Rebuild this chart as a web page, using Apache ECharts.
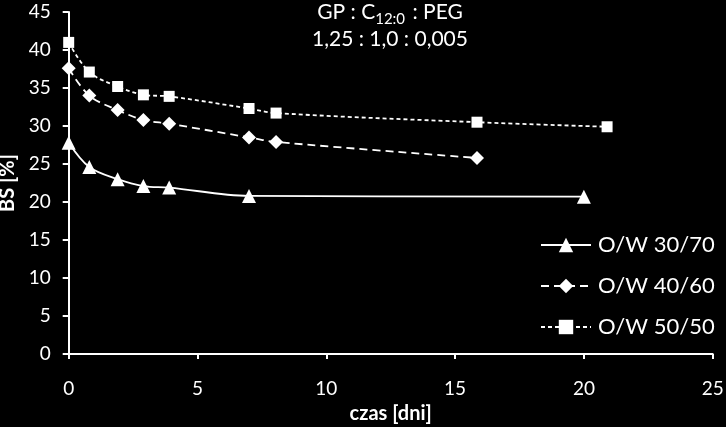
<!DOCTYPE html>
<html><head><meta charset="utf-8">
<script src="https://cdn.jsdelivr.net/npm/echarts@6/dist/echarts.min.js"></script>
<style>html,body{margin:0;padding:0;background:#000}#c{width:726px;height:427px}</style>
</head><body><div id="c"></div>
<script>
const ow3070_x = [0, 0.8, 1.9, 2.9, 3.9, 7.0, 20.0];
const ow3070_y = [27.8, 24.6, 23.0, 22.1, 21.9, 20.8, 20.7];
const ow4060_x = [0, 0.8, 1.9, 2.9, 3.9, 7.0, 8.05, 15.85];
const ow4060_y = [37.6, 34.0, 32.1, 30.8, 30.3, 28.5, 27.9, 25.8];
const ow5050_x = [0, 0.8, 1.9, 2.9, 3.9, 7.0, 8.05, 15.85, 20.9];
const ow5050_y = [41.0, 37.1, 35.2, 34.1, 33.9, 32.3, 31.7, 30.5, 29.9];
const seriesNames = ['O/W 30/70', 'O/W 40/60', 'O/W 50/50'];
const xTicks = {min: 0, max: 25, step: 5};
const yTicks = {min: 0, max: 45, step: 5};

function pairs(xs, ys){ return xs.map((x,i)=>[x, ys[i]]); }
const F = 'Lato, "Open Sans", sans-serif';
const chart = echarts.init(document.getElementById('c'));
chart.setOption({
  backgroundColor: '#000',
  animation: false,
  title: [{
    text: '{a|GP : C}{s|12:0}{a| : PEG}',
    left: 385, top: 0, textAlign: 'center',
    textStyle: {fontWeight: 'normal', rich: {
      a: {color: '#fff', fontFamily: F, fontSize: 21, fontWeight: 'normal', lineHeight: 22, verticalAlign: 'bottom', padding: [0,0,4,0]},
      s: {color: '#fff', fontFamily: F, fontSize: 15, fontWeight: 'normal', lineHeight: 18, verticalAlign: 'bottom', padding: [0,2,0,0]}
    }}
  }, {
    text: '1,25 : 1,0 : 0,005',
    left: 385, top: 24, textAlign: 'center',
    textStyle: {color: '#fff', fontFamily: F, fontSize: 21, fontWeight: 'normal'}
  }],
  legend: {
    orient: 'vertical', left: 535, top: 229,
    itemWidth: 50, itemHeight: 18, itemGap: 19,
    textStyle: {color: '#fff', fontFamily: F, fontSize: 22, padding: [0,0,0,2]},
    data: seriesNames
  },
  grid: {left: 68.7, right: 13.3, top: 12, bottom: 73, outerBoundsMode: 'none', containLabel: false},
  xAxis: {
    type: 'value', min: xTicks.min, max: xTicks.max, interval: xTicks.step,
    name: 'czas [dni]', nameLocation: 'middle', nameGap: 50,
    nameTextStyle: {color: '#fff', fontFamily: F, fontSize: 20, fontWeight: 'bold'},
    axisLine: {lineStyle: {color: '#fff', width: 2}},
    axisTick: {show: true, inside: false, length: 5, lineStyle: {color: '#fff', width: 2}},
    axisLabel: {color: '#fff', fontFamily: F, fontSize: 19, margin: 25},
    splitLine: {show: false}
  },
  yAxis: {
    type: 'value', min: yTicks.min, max: yTicks.max, interval: yTicks.step,
    name: 'BS [%]', nameLocation: 'middle', nameGap: 45,
    nameTextStyle: {color: '#fff', fontFamily: F, fontSize: 20, fontWeight: 'bold'},
    axisLine: {show: true, lineStyle: {color: '#fff', width: 2}},
    axisTick: {show: true, inside: false, length: 6, lineStyle: {color: '#fff', width: 2}},
    axisLabel: {color: '#fff', fontFamily: F, fontSize: 19, margin: 18},
    splitLine: {show: false}
  },
  series: [{
    name: seriesNames[0], type: 'line', smooth: 0.35,
    data: pairs(ow3070_x, ow3070_y),
    symbol: 'triangle', symbolSize: 14,
    itemStyle: {color: '#fff'},
    lineStyle: {color: '#fff', width: 1.8, type: 'solid'}
  }, {
    name: seriesNames[1], type: 'line', smooth: 0.35,
    data: pairs(ow4060_x, ow4060_y),
    symbol: 'diamond', symbolSize: 14,
    itemStyle: {color: '#fff'},
    lineStyle: {color: '#fff', width: 1.8, type: [8, 5]}
  }, {
    name: seriesNames[2], type: 'line', smooth: 0.35,
    data: pairs(ow5050_x, ow5050_y),
    symbol: 'rect', symbolSize: 11,
    itemStyle: {color: '#fff'},
    lineStyle: {color: '#fff', width: 1.8, type: [4, 3]}
  }]
});
</script></body></html>
